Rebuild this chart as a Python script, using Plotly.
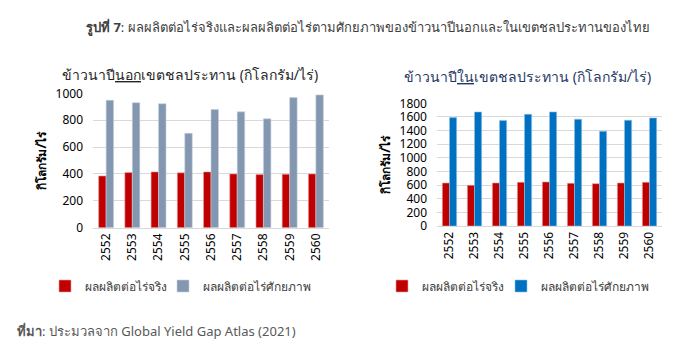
import plotly.graph_objects as go

years = ["2552", "2553", "2554", "2555", "2556", "2557", "2558", "2559", "2560"]
out_actual = [385, 410, 415, 408, 415, 400, 395, 398, 400]
out_potential = [948, 930, 922, 702, 880, 862, 810, 968, 988]
in_actual = [631, 597, 631, 641, 646, 626, 621, 631, 641]
in_potential = [1590, 1673, 1546, 1639, 1673, 1566, 1389, 1551, 1585]

name_actual = "ผลผลิตต่อไร่จริง"
name_potential = "ผลผลิตต่อไร่ศักยภาพ"

RED = "#C00000"
GREY = "#8497B0"
BLUE = "#0070C0"
FONT = "Noto Sans, Liberation Sans, sans-serif"

W, H = 692, 358
def px(x): return x / W
def py(y): return 1 - y / H

fig = go.Figure()
fig.add_trace(go.Bar(x=years, y=out_actual, name=name_actual, marker=dict(color=RED, line=dict(color="#E8A0A0", width=0.6)),
                     xaxis="x", yaxis="y", legend="legend", showlegend=True))
fig.add_trace(go.Bar(x=years, y=out_potential, name=name_potential, marker=dict(color=GREY, line=dict(color="#C6D0DD", width=0.6)),
                     xaxis="x", yaxis="y", legend="legend2", showlegend=True))
fig.add_trace(go.Bar(x=years, y=in_actual, name=name_actual, marker=dict(color=RED, line=dict(color="#E8A0A0", width=0.6)),
                     xaxis="x2", yaxis="y2", legend="legend3", showlegend=True))
fig.add_trace(go.Bar(x=years, y=in_potential, name=name_potential, marker=dict(color=BLUE, line=dict(color="#8EC0E6", width=0.6)),
                     xaxis="x2", yaxis="y2", legend="legend4", showlegend=True))

axis_font = dict(family=FONT, size=12, color="#000000")
ytitle_font = dict(family=FONT, size=12, color="#000000")
legend_font = dict(family=FONT, size=12, color="#404040")

def leg(x):
    return dict(orientation="h", x=px(x), y=py(286), xanchor="left", yanchor="middle",
                font=legend_font, itemwidth=30, bgcolor="rgba(0,0,0,0)", visible=True)

fig.update_layout(
    width=W, height=H,
    showlegend=True,
    margin=dict(l=0, r=0, t=0, b=0, autoexpand=False),
    paper_bgcolor="white", plot_bgcolor="white",
    barmode="group", bargap=0.43, bargroupgap=0,
    font=dict(family=FONT, color="#404040"),
    xaxis=dict(domain=[px(93), px(329)], anchor="y", tickangle=-90, tickfont=axis_font, automargin=False,
               showline=True, linecolor="#D9D9D9", ticks="", showgrid=False),
    yaxis=dict(domain=[py(227.7), py(93.3)], anchor="x", range=[0, 1000], dtick=200, automargin=False,
               tickfont=axis_font, gridcolor="#D9D9D9", zeroline=False, showline=False, ticklabelstandoff=9,
               title=dict(text="<b>กิโลกรัม/ไร่</b>", font=ytitle_font, standoff=6)),
    xaxis2=dict(domain=[px(437), px(662)], anchor="y2", tickangle=-90, tickfont=axis_font, automargin=False,
                showline=True, linecolor="#D9D9D9", ticks="", showgrid=False),
    yaxis2=dict(domain=[py(226), py(103.3)], anchor="x2", range=[0, 1800], dtick=200, automargin=False,
                tickfont=axis_font, gridcolor="#D9D9D9", zeroline=False, showline=False, ticklabelstandoff=9,
                title=dict(text="<b>กิโลกรัม/ไร่</b>", font=ytitle_font, standoff=6)),
    legend=leg(45),
    legend2=leg(163),
    legend3=leg(382),
    legend4=leg(501),
    annotations=[
        dict(text="<b>รูปที่ 7</b>: ผลผลิตต่อไร่จริงและผลผลิตต่อไร่ตามศักยภาพของข้าวนาปีนอกและในเขตชลประทานของไทย",
             x=px(368), y=py(27), xref="paper", yref="paper", showarrow=False,
             xanchor="center", yanchor="middle", font=dict(family=FONT, size=13, color="#404040")),
        dict(text="ข้าวนาปี<u>นอก</u>เขตชลประทาน (กิโลกรัม/ไร่)",
             x=px(190), y=py(75), xref="paper", yref="paper", showarrow=False,
             xanchor="center", yanchor="middle", font=dict(family=FONT, size=14, color="#262626")),
        dict(text="ข้าวนาปี<u>ใน</u>เขตชลประทาน (กิโลกรัม/ไร่)",
             x=px(527), y=py(76), xref="paper", yref="paper", showarrow=False,
             xanchor="center", yanchor="middle", font=dict(family=FONT, size=14, color="#1F3864")),
        dict(text="<b>ที่มา</b>: ประมวลจาก Global Yield Gap Atlas (2021)",
             x=px(15), y=py(331), xref="paper", yref="paper", showarrow=False,
             xanchor="left", yanchor="middle", font=dict(family=FONT, size=13, color="#595959")),
    ],
)

fig.write_html("out.html", config={"displayModeBar": False},
               post_script="document.body.style.margin='0px';")
